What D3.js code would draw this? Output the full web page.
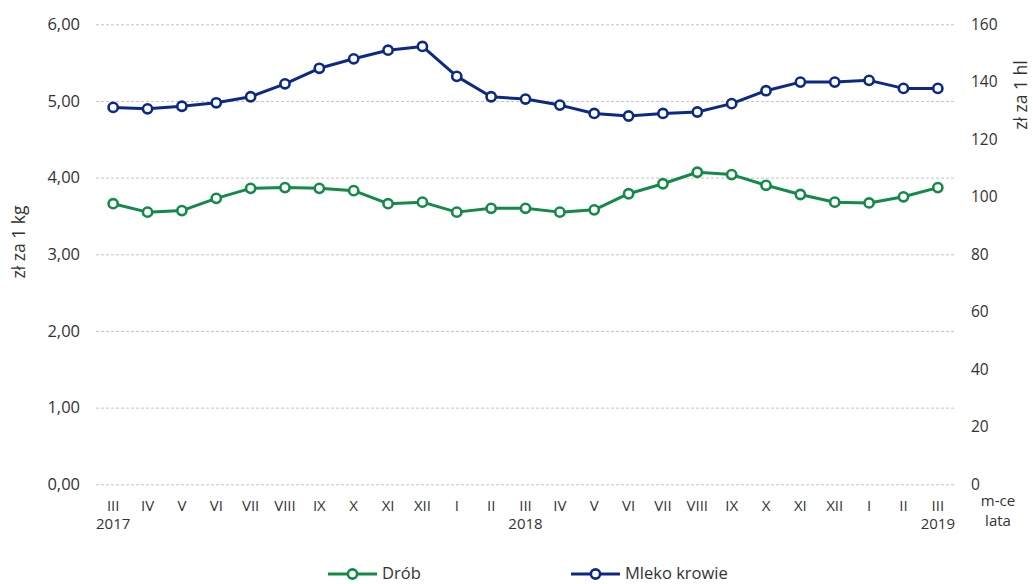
<!DOCTYPE html>
<html><head><meta charset="utf-8">
<script src="https://cdn.jsdelivr.net/npm/d3@7"></script>
<style>body{margin:0;background:#fff}svg{display:block}text{font-family:"Open Sans","Noto Sans",sans-serif;fill:#333}</style>
</head><body><svg id="c" width="1033" height="584"></svg>
<script>
const months = ["III","IV","V","VI","VII","VIII","IX","X","XI","XII","I","II","III","IV","V","VI","VII","VIII","IX","X","XI","XII","I","II","III"];
const years = {0:"2017",12:"2018",24:"2019"};
const drob = [3.66,3.55,3.57,3.73,3.86,3.87,3.86,3.83,3.66,3.68,3.55,3.60,3.60,3.55,3.58,3.79,3.92,4.07,4.04,3.90,3.78,3.68,3.67,3.75,3.87];
const mleko = [131.1,130.6,131.5,132.7,134.8,139.3,144.7,148.0,151.0,152.3,141.9,134.8,134.0,131.9,129.0,128.1,129.0,129.5,132.4,136.9,139.9,139.9,140.5,137.7,137.7];
const leftTicks = [0,1,2,3,4,5,6];
const rightTicks = [0,20,40,60,80,100,120,140,160];
const green = "#138a48", navy = "#0c2a85";

const svg = d3.select("#c");
const x0 = 96, x1 = 955, yTop = 24.3, yBot = 484.3;
const x = d3.scaleBand().domain(d3.range(months.length)).range([x0, x1]);
const yL = d3.scaleLinear().domain([0,6]).range([yBot, yTop]);
const yR = d3.scaleLinear().domain([0,160]).range([yBot, yTop]);
const cx = i => x(i) + x.bandwidth()/2;

// grid
const gL = svg.append("g").attr("transform", `translate(${x0},0)`)
  .call(d3.axisLeft(yL).tickValues(leftTicks).tickSize(-(x1-x0)).tickPadding(16)
    .tickFormat(d => d3.format(".2f")(d).replace(".", ",")));
gL.select(".domain").remove();
gL.selectAll(".tick line").attr("stroke","#c4c4c4").attr("stroke-dasharray","3,2");
gL.selectAll(".tick text").style("font-size","16.5px").attr("fill","#333");

const gR = svg.append("g").attr("transform", `translate(${x1},0)`)
  .call(d3.axisRight(yR).tickValues(rightTicks).tickSize(0).tickPadding(16));
gR.select(".domain").remove();
gR.selectAll(".tick text").style("font-size","15.5px").attr("fill","#333");

// x labels
const gx = svg.append("g");
gx.selectAll("text.m").data(months).join("text").attr("class","m")
  .attr("x",(d,i)=>cx(i)).attr("y",510.5).attr("text-anchor","middle").style("font-size","15px").text(d=>d);
gx.selectAll("text.y").data(Object.entries(years)).join("text").attr("class","y")
  .attr("x",d=>cx(+d[0])).attr("y",528.5).attr("text-anchor","middle").style("font-size","15px").text(d=>d[1]);
svg.append("text").attr("x",998).attr("y",506).attr("text-anchor","middle").style("font-size","15px").text("m-ce");
svg.append("text").attr("x",998).attr("y",526).attr("text-anchor","middle").style("font-size","15px").text("lata");

// axis titles
svg.append("text").attr("transform","translate(25,242) rotate(-90)").attr("text-anchor","middle").style("font-size","17.5px").text("zł za 1 kg");
svg.append("text").attr("transform","translate(1027,95) rotate(-90)").attr("text-anchor","middle").style("font-size","17.5px").text("zł za 1 hl");

// series
function series(data, y, color){
  const line = d3.line().x((d,i)=>cx(i)).y(d=>y(d));
  svg.append("path").datum(data).attr("d",line).attr("fill","none").attr("stroke",color).attr("stroke-width",3).attr("stroke-linejoin","round");
  svg.append("g").selectAll("circle").data(data).join("circle")
    .attr("cx",(d,i)=>cx(i)).attr("cy",d=>y(d)).attr("r",4.6)
    .attr("fill","#fff").attr("stroke",color).attr("stroke-width",2.6);
}
series(drob, yL, green);
series(mleko, yR, navy);

// legend
const legend = [{name:"Drób", color:green, x:328},{name:"Mleko krowie", color:navy, x:571}];
const lg = svg.append("g").selectAll("g").data(legend).join("g").attr("transform",d=>`translate(${d.x},574)`);
lg.append("line").attr("x1",0).attr("x2",49).attr("stroke",d=>d.color).attr("stroke-width",3);
lg.append("circle").attr("cx",24.5).attr("r",4.6).attr("fill","#fff").attr("stroke",d=>d.color).attr("stroke-width",2.6);
lg.append("text").attr("x",54).attr("y",5).style("font-size","16.5px").text(d=>d.name);
</script></body></html>
